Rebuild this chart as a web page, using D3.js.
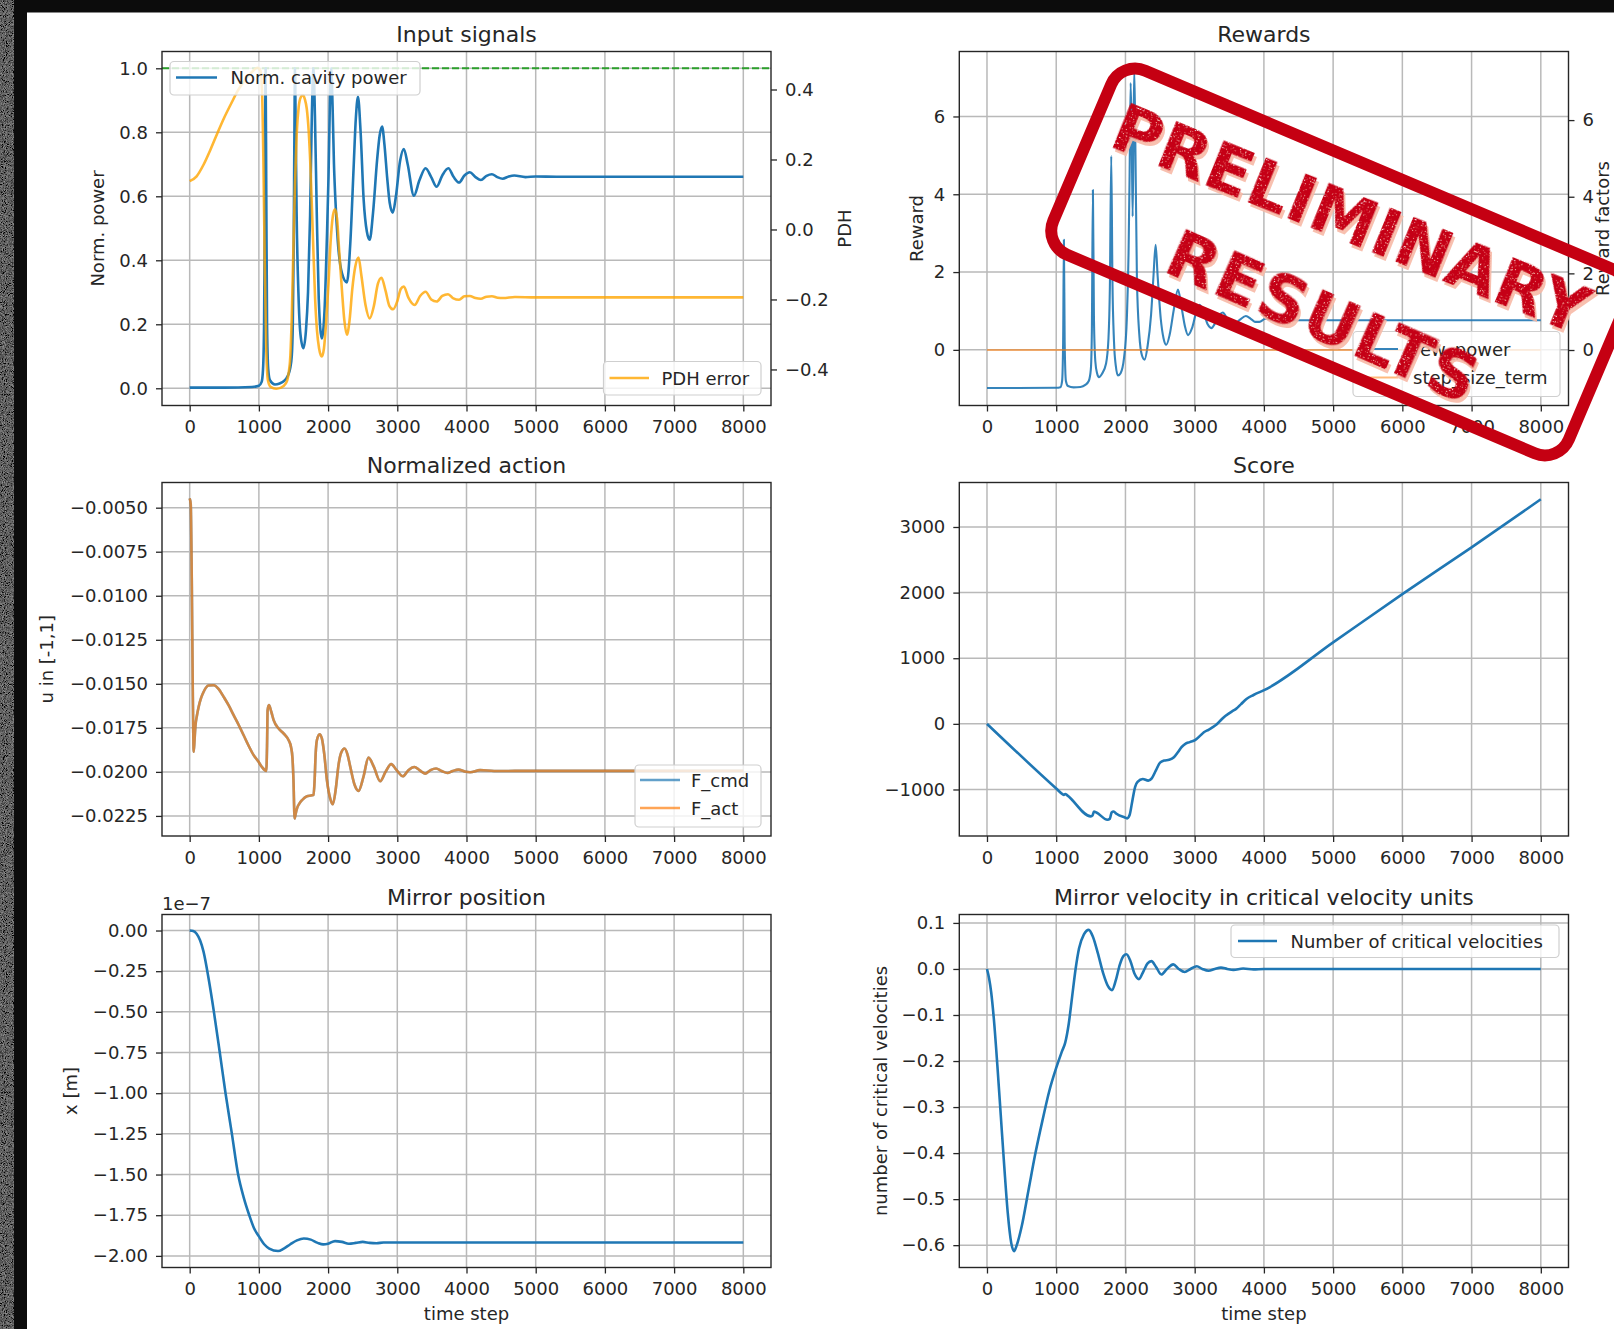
<!DOCTYPE html>
<html>
<head>
<meta charset="utf-8">
<script src="https://cdn.jsdelivr.net/npm/d3@7"></script>
<style>
  html, body { margin: 0; padding: 0; background: #0c0c0c; }
  svg { display: block; }
</style>
</head>
<body>
<svg id="fig" width="1614" height="1329"></svg>
<script>
// ---------------------------------------------------------------------------
// Data (time step, value) read per signal
// ---------------------------------------------------------------------------
const timeTicks = [0, 1000, 2000, 3000, 4000, 5000, 6000, 7000, 8000];
const powerTicks = [0, 0.2, 0.4, 0.6, 0.8, 1.0];
const pdhTicks = [-0.4, -0.2, 0, 0.2, 0.4];
const rewardTicks = [0, 2, 4, 6];
const actionTicks = [-0.0225, -0.02, -0.0175, -0.015, -0.0125, -0.01, -0.0075, -0.005];
const scoreTicks = [-1000, 0, 1000, 2000, 3000];
const positionTicks = [-2, -1.75, -1.5, -1.25, -1, -0.75, -0.5, -0.25, 0];   // units of 1e-7 m
const velocityTicks = [-0.6, -0.5, -0.4, -0.3, -0.2, -0.1, 0, 0.1];

const powerSetpoint = 1.0;

const cavityPower = [
  [0,0.002],[500,0.002],[900,0.004],[1000,0.008],[1040,0.02],[1060,0.06],[1075,0.2],[1087,0.6],
  [1097,1.0],[1107,0.6],[1118,0.2],[1135,0.06],[1160,0.025],[1232,0.012],[1300,0.015],[1353,0.021],
  [1420,0.04],[1450,0.06],[1475,0.1],[1490,0.2],[1503,0.45],[1515,0.85],[1522,1.0],[1530,0.85],
  [1545,0.55],[1571,0.3],[1600,0.17],[1643,0.125],[1680,0.18],[1710,0.3],[1740,0.54],[1765,0.85],
  [1789,1.0],[1810,0.85],[1837,0.54],[1865,0.28],[1909,0.156],[1950,0.25],[1980,0.45],[2006,0.66],
  [2025,0.88],[2045,1.0],[2065,0.88],[2085,0.7],[2103,0.6],[2140,0.46],[2200,0.36],[2272,0.331],
  [2320,0.45],[2369,0.69],[2400,0.84],[2432,0.911],[2470,0.8],[2514,0.589],[2560,0.49],[2601,0.464],
  [2650,0.55],[2708,0.713],[2745,0.79],[2780,0.818],[2815,0.76],[2853,0.66],[2890,0.58],[2935,0.549],
  [2980,0.6],[3040,0.71],[3095,0.748],[3150,0.7],[3240,0.602],[3320,0.65],[3409,0.6875],[3490,0.66],
  [3569,0.63],[3650,0.665],[3738,0.6875],[3815,0.66],[3893,0.643],[3970,0.665],[4048,0.675],[4130,0.66],
  [4208,0.651],[4290,0.664],[4367,0.669],[4445,0.66],[4522,0.655],[4610,0.662],[4691,0.665],[4850,0.66],
  [5000,0.662],[5300,0.661],[8000,0.661]
];

const pdhError = [
  [0,0.138],[100,0.152],[200,0.185],[300,0.228],[400,0.275],[500,0.32],[600,0.36],[700,0.398],
  [800,0.428],[900,0.45],[980,0.462],[1020,0.455],[1045,0.4],[1065,0.2],[1085,-0.1],[1105,-0.33],
  [1130,-0.43],[1170,-0.45],[1250,-0.455],[1320,-0.452],[1390,-0.44],[1430,-0.41],[1455,-0.36],
  [1475,-0.25],[1498,-0.06],[1522,0.132],[1547,0.275],[1575,0.35],[1605,0.378],[1634,0.384],
  [1665,0.372],[1692,0.345],[1720,0.28],[1745,0.18],[1779,-0.011],[1813,-0.2],[1840,-0.29],
  [1870,-0.34],[1909,-0.363],[1940,-0.34],[1970,-0.27],[2006,-0.154],[2035,-0.04],[2070,0.04],
  [2100,0.058],[2130,0.03],[2160,-0.06],[2200,-0.173],[2235,-0.26],[2272,-0.301],[2310,-0.26],
  [2350,-0.17],[2393,-0.106],[2440,-0.08],[2480,-0.13],[2540,-0.215],[2601,-0.254],[2660,-0.22],
  [2720,-0.155],[2771,-0.138],[2830,-0.175],[2885,-0.218],[2940,-0.228],[3000,-0.205],[3050,-0.17],
  [3095,-0.163],[3160,-0.195],[3250,-0.216],[3330,-0.19],[3409,-0.178],[3490,-0.2],[3569,-0.206],
  [3650,-0.19],[3733,-0.185],[3810,-0.197],[3893,-0.201],[3970,-0.191],[4048,-0.19],[4130,-0.196],
  [4208,-0.198],[4290,-0.192],[4367,-0.191],[4450,-0.195],[4530,-0.196],[4700,-0.193],[5000,-0.194],
  [8000,-0.194]
];

const rewPower = [
  [0,-0.98],[1000,-0.975],[1060,-0.96],[1085,-0.8],[1100,0.2],[1111,2.83],[1122,0.2],[1140,-0.8],
  [1170,-0.93],[1250,-0.965],[1350,-0.955],[1420,-0.9],[1470,-0.8],[1500,-0.5],[1515,0.5],[1530,4.11],
  [1545,0.8],[1565,-0.3],[1590,-0.6],[1617,-0.7],[1660,-0.62],[1720,-0.35],[1755,0.3],[1775,1.6],
  [1795,4.98],[1812,1.8],[1835,0.2],[1860,-0.4],[1892,-0.66],[1930,-0.6],[1980,-0.2],[2020,0.8],
  [2045,2.5],[2060,4.5],[2075,6.86],[2090,5.6],[2104,3.43],[2116,5.5],[2128,7.2],[2145,5.0],
  [2166,1.8],[2200,0.4],[2240,-0.15],[2277,-0.25],[2320,0.1],[2370,0.9],[2405,1.9],[2436,2.7],
  [2465,1.9],[2510,0.8],[2550,0.3],[2590,0.13],[2640,0.4],[2700,1.05],[2759,1.55],[2810,1.1],
  [2860,0.6],[2904,0.38],[2960,0.55],[3020,0.95],[3072,1.16],[3130,0.95],[3190,0.65],[3240,0.56],
  [3300,0.7],[3360,0.9],[3406,0.96],[3470,0.8],[3530,0.68],[3570,0.66],[3650,0.77],[3740,0.87],
  [3810,0.8],[3870,0.72],[3935,0.72],[4020,0.8],[4100,0.78],[4200,0.74],[4300,0.77],[4500,0.76],
  [8000,0.76]
];

const stepSizeTerm = [[0,0],[8000,0]];

const fCmd = [
  [0,-0.00447],[15,-0.0048],[30,-0.009],[45,-0.0155],[58,-0.01886],[70,-0.0182],[82,-0.01744],
  [105,-0.0168],[130,-0.0163],[165,-0.0158],[202,-0.01545],[270,-0.0151],[346,-0.01508],[420,-0.0153],
  [491,-0.01574],[560,-0.0162],[635,-0.01678],[710,-0.01735],[780,-0.01792],[850,-0.0185],[924,-0.01905],
  [990,-0.0194],[1044,-0.01972],[1085,-0.0199],[1107,-0.01994],[1118,-0.0185],[1126,-0.0165],
  [1145,-0.01621],[1180,-0.0166],[1213,-0.01706],[1285,-0.01754],[1340,-0.01775],[1381,-0.01792],
  [1430,-0.0182],[1465,-0.0186],[1485,-0.0192],[1500,-0.0205],[1516,-0.02265],[1530,-0.0224],
  [1550,-0.02208],[1585,-0.0218],[1622,-0.02161],[1694,-0.02138],[1766,-0.02133],[1790,-0.0213],
  [1805,-0.0205],[1820,-0.019],[1838,-0.0182],[1877,-0.01786],[1910,-0.0181],[1945,-0.019],
  [1983,-0.02047],[2030,-0.0215],[2069,-0.02184],[2110,-0.021],[2151,-0.0196],[2190,-0.0189],
  [2238,-0.01867],[2280,-0.019],[2320,-0.0197],[2380,-0.0207],[2440,-0.02108],[2510,-0.0203],
  [2584,-0.01919],[2660,-0.0197],[2753,-0.02053],[2830,-0.02],[2911,-0.01956],[2990,-0.0199],
  [3080,-0.02025],[3160,-0.0199],[3248,-0.01972],[3320,-0.0199],[3402,-0.0201],[3480,-0.0199],
  [3561,-0.01981],[3640,-0.01995],[3725,-0.02006],[3800,-0.01995],[3884,-0.01987],[3970,-0.01997],
  [4052,-0.02002],[4196,-0.0199],[4400,-0.01995],[5000,-0.01994],[8000,-0.01994]
];
// the actuator follows the command without visible lag
const fAct = fCmd;

const score = [
  [0,0],[1000,-985],[1090,-1070],[1110,-1082],[1130,-1068],[1160,-1090],[1500,-1410],[1525,-1395],
  [1545,-1335],[1580,-1350],[1740,-1462],[1775,-1445],[1800,-1350],[1830,-1335],[1870,-1370],
  [2000,-1430],[2025,-1440],[2060,-1390],[2100,-1170],[2140,-960],[2175,-885],[2250,-840],[2330,-865],
  [2380,-830],[2440,-710],[2500,-590],[2560,-560],[2630,-548],[2700,-510],[2760,-430],[2810,-355],
  [2870,-300],[2930,-278],[3010,-245],[3080,-180],[3133,-127],[3200,-90],[3261,-51],[3320,-5],
  [3373,51],[3430,110],[3486,152],[3540,190],[3598,228],[3670,300],[3748,380],[3850,440],[4010,517],
  [5000,1242],[6000,1977],[7000,2690],[8000,3422]
];

// mirror position in units of 1e-7 m
const mirrorPosition = [
  [0,0],[50,-0.003],[100,-0.02],[150,-0.06],[200,-0.13],[275,-0.3],[350,-0.5],[435,-0.75],[518,-1.0],
  [610,-1.25],[700,-1.5],[780,-1.64],[861,-1.75],[930,-1.83],[1000,-1.88],[1080,-1.93],[1150,-1.955],
  [1277,-1.97],[1360,-1.955],[1450,-1.93],[1550,-1.905],[1650,-1.893],[1750,-1.9],[1850,-1.92],
  [1930,-1.929],[2000,-1.925],[2100,-1.909],[2200,-1.914],[2300,-1.925],[2400,-1.92],[2500,-1.914],
  [2600,-1.92],[2700,-1.922],[2800,-1.918],[3000,-1.918],[8000,-1.918]
];

const mirrorVelocity = [
  [0,0],[30,-0.02],[60,-0.05],[100,-0.11],[150,-0.21],[200,-0.32],[250,-0.43],[300,-0.53],[350,-0.595],
  [390,-0.613],[430,-0.6],[500,-0.56],[600,-0.48],[700,-0.4],[800,-0.33],[900,-0.265],[1000,-0.215],
  [1080,-0.18],[1130,-0.16],[1180,-0.12],[1230,-0.06],[1280,0.0],[1330,0.045],[1400,0.075],[1470,0.085],
  [1530,0.07],[1600,0.035],[1680,-0.01],[1750,-0.038],[1805,-0.046],[1860,-0.025],[1920,0.01],
  [1970,0.028],[2015,0.032],[2070,0.018],[2130,-0.01],[2195,-0.022],[2260,-0.005],[2320,0.012],
  [2375,0.017],[2440,0.005],[2518,-0.012],[2600,0.0],[2690,0.01],[2770,0.0],[2855,-0.0065],[2940,0.0],
  [3030,0.006],[3110,0.0],[3200,-0.004],[3290,0.0],[3380,0.003],[3470,0.0],[3560,-0.002],[3700,0.001],
  [3850,-0.001],[4000,0.0],[8000,0.0]
];

// ---------------------------------------------------------------------------
// Styling and layout
// ---------------------------------------------------------------------------
const FONT = '"DejaVu Sans", "Liberation Sans", sans-serif';
const INK = "#262626";
const GRID = "#b9b9b9";
const BLUE = "#1f77b4";
const ORANGE = "#ff7f0e";
const RED = "#c50012";
const xDomain = [-400, 8400];

const col = [{x0: 162, x1: 771}, {x0: 959.3, x1: 1568.5}];
const row = [{y0: 51.5, y1: 405.5}, {y0: 482.5, y1: 836}, {y0: 914.5, y1: 1267.5}];

const svg = d3.select("#fig");
const defs = svg.append("defs");

// grain for the dark edge of the sheet
const grain = defs.append("filter").attr("id", "grain");
grain.append("feTurbulence").attr("type", "fractalNoise").attr("baseFrequency", 1.1).attr("numOctaves", 2).attr("seed", 4);
grain.append("feColorMatrix").attr("type", "matrix")
  .attr("values", "0.55 0 0 0 -0.16  0.55 0 0 0 -0.16  0.55 0 0 0 -0.16  0 0 0 0 1");

// speckled ink for the stamp lettering
const grunge = defs.append("filter").attr("id", "grunge")
  .attr("x", "-5%").attr("y", "-20%").attr("width", "110%").attr("height", "140%");
grunge.append("feTurbulence").attr("type", "fractalNoise").attr("baseFrequency", 0.7)
  .attr("numOctaves", 2).attr("seed", 11).attr("result", "n");
grunge.append("feColorMatrix").attr("in", "n").attr("type", "matrix")
  .attr("values", "0 0 0 0 0  0 0 0 0 0  0 0 0 0 0  9 0 0 0 -5.7").attr("result", "holes");
grunge.append("feComposite").attr("in", "SourceGraphic").attr("in2", "holes").attr("operator", "out");

// sheet
svg.append("rect").attr("width", 1614).attr("height", 1329).attr("fill", "#0c0c0c");
svg.append("rect").attr("x", 0).attr("y", 0).attr("width", 12).attr("height", 1329).attr("filter", "url(#grain)");
svg.append("rect").attr("x", 27).attr("y", 12.5).attr("width", 1614 - 27).attr("height", 1329 - 12.5).attr("fill", "#ffffff");

function styleAxis(sel) {
  sel.select(".domain").remove();
  sel.attr("font-family", FONT).attr("font-size", 18);
  sel.selectAll(".tick line").attr("stroke", INK).attr("stroke-width", 1.3);
  sel.selectAll(".tick text").attr("fill", INK);
}

function addPanel(c) {
  const x = d3.scaleLinear().domain(xDomain).range([c.x0, c.x1]);
  const y = d3.scaleLinear().domain(c.yDomain).range([c.y1, c.y0]);
  const g = svg.append("g").attr("font-family", FONT).attr("fill", INK);

  const grid = g.append("g").attr("stroke", GRID).attr("stroke-width", 1.5);
  grid.selectAll("line.gx").data(timeTicks).join("line").attr("class", "gx")
    .attr("x1", d => x(d)).attr("x2", d => x(d)).attr("y1", c.y0).attr("y2", c.y1);
  grid.selectAll("line.gy").data(c.yTicks).join("line").attr("class", "gy")
    .attr("y1", d => y(d)).attr("y2", d => y(d)).attr("x1", c.x0).attr("x2", c.x1);

  defs.append("clipPath").attr("id", "clip-" + c.key).append("rect")
    .attr("x", c.x0).attr("y", c.y0).attr("width", c.x1 - c.x0).attr("height", c.y1 - c.y0);
  const plot = g.append("g").attr("clip-path", `url(#clip-${c.key})`);

  g.append("rect").attr("x", c.x0).attr("y", c.y0).attr("width", c.x1 - c.x0).attr("height", c.y1 - c.y0)
    .attr("fill", "none").attr("stroke", INK).attr("stroke-width", 1.4);

  g.append("g").attr("transform", `translate(0,${c.y1})`)
    .call(d3.axisBottom(x).tickValues(timeTicks).tickFormat(d3.format("d"))
      .tickSizeInner(6).tickSizeOuter(0).tickPadding(9))
    .call(styleAxis);
  g.append("g").attr("transform", `translate(${c.x0},0)`)
    .call(d3.axisLeft(y).tickValues(c.yTicks).tickFormat(c.yFormat)
      .tickSizeInner(6).tickSizeOuter(0).tickPadding(8))
    .call(styleAxis);

  g.append("text").attr("x", (c.x0 + c.x1) / 2).attr("y", c.y0 - 9.5)
    .attr("text-anchor", "middle").attr("font-size", 22).text(c.title);
  if (c.yLabel) {
    g.append("text").attr("transform", `translate(${c.yLabelX},${(c.y0 + c.y1) / 2}) rotate(-90)`)
      .attr("text-anchor", "middle").attr("font-size", 18).text(c.yLabel);
  }
  if (c.xLabel) {
    g.append("text").attr("x", (c.x0 + c.x1) / 2).attr("y", c.y1 + 52.5)
      .attr("text-anchor", "middle").attr("font-size", 18).text(c.xLabel);
  }
  return {g, x, y, plot, c};
}

function drawLine(p, data, yScale, style) {
  const gen = d3.line().x(d => p.x(d[0])).y(d => yScale(d[1])).curve(d3.curveMonotoneX);
  const path = p.plot.append("path").datum(data).attr("d", gen).attr("fill", "none")
    .attr("stroke", style.color).attr("stroke-width", style.width || 2.6)
    .attr("stroke-linejoin", "round").attr("stroke-linecap", "butt");
  if (style.opacity) path.attr("stroke-opacity", style.opacity);
  if (style.dash) path.attr("stroke-dasharray", style.dash);
  return path;
}

function rightAxis(p, yScale, ticks, fmt, label, labelX) {
  p.g.append("g").attr("transform", `translate(${p.c.x1},0)`)
    .call(d3.axisRight(yScale).tickValues(ticks).tickFormat(fmt)
      .tickSizeInner(6).tickSizeOuter(0).tickPadding(8))
    .call(styleAxis);
  p.g.append("text").attr("transform", `translate(${labelX},${(p.c.y0 + p.c.y1) / 2}) rotate(-90)`)
    .attr("text-anchor", "middle").attr("font-size", 18).text(label);
}

function legend(p, box, entries) {
  const L = p.g.append("g");
  L.append("rect").attr("x", box.x).attr("y", box.y).attr("width", box.w).attr("height", box.h)
    .attr("rx", 4).attr("fill", "#ffffff").attr("fill-opacity", 0.8)
    .attr("stroke", "#cfcfcf").attr("stroke-width", 1.2);
  entries.forEach(e => {
    L.append("line").attr("x1", box.sx0).attr("x2", box.sx1).attr("y1", e.y).attr("y2", e.y)
      .attr("stroke", e.color).attr("stroke-width", e.width || 2.6)
      .attr("stroke-opacity", e.opacity || 1);
    L.append("text").attr("x", box.tx).attr("y", e.y + 6.5).attr("font-size", 18).text(e.label);
  });
}

// ---------------------------------------------------------------------------
// Input signals
// ---------------------------------------------------------------------------
const p1 = addPanel({key: "input", ...col[0], ...row[0], yDomain: [-0.0538, 1.0525],
  yTicks: powerTicks, yFormat: d3.format(".1f"), title: "Input signals",
  yLabel: "Norm. power", yLabelX: 104});
const pdhScale = d3.scaleLinear().domain([-0.503, 0.5086]).range([row[0].y1, row[0].y0]);
p1.plot.append("line").attr("x1", col[0].x0).attr("x2", col[0].x1)
  .attr("y1", p1.y(powerSetpoint)).attr("y2", p1.y(powerSetpoint))
  .attr("stroke", "#2ca02c").attr("stroke-width", 2).attr("stroke-dasharray", "7,3");
drawLine(p1, cavityPower, p1.y, {color: BLUE});
drawLine(p1, pdhError, pdhScale, {color: "#ffa500", opacity: 0.8});
rightAxis(p1, pdhScale, pdhTicks, d3.format(".1f"), "PDH", 851);
legend(p1, {x: 170, y: 61.5, w: 250, h: 33.5, sx0: 176, sx1: 217, tx: 230.5},
  [{label: "Norm. cavity power", y: 77.5, color: BLUE}]);
legend(p1, {x: 603.5, y: 361.5, w: 157.5, h: 33.5, sx0: 609.5, sx1: 649, tx: 661.5},
  [{label: "PDH error", y: 378, color: "#ffa500", opacity: 0.8}]);

// ---------------------------------------------------------------------------
// Rewards
// ---------------------------------------------------------------------------
const p2 = addPanel({key: "rewards", ...col[1], ...row[0], yDomain: [-1.43, 7.67],
  yTicks: rewardTicks, yFormat: d3.format("d"), title: "Rewards",
  yLabel: "Reward", yLabelX: 923});
const factorScale = d3.scaleLinear().domain([-1.448, 7.79]).range([row[0].y1, row[0].y0]);
drawLine(p2, rewPower, p2.y, {color: BLUE, width: 2.1, opacity: 0.9});
drawLine(p2, stepSizeTerm, factorScale, {color: ORANGE, width: 2.1, opacity: 0.55});
rightAxis(p2, factorScale, rewardTicks, d3.format("d"), "Reward factors", 1609);
legend(p2, {x: 1353, y: 331.5, w: 207, h: 65, sx0: 1361, sx1: 1398, tx: 1413},
  [{label: "rew_power", y: 349, color: BLUE, width: 2.1, opacity: 0.9},
   {label: "step_size_term", y: 377.5, color: ORANGE, width: 2.1, opacity: 0.55}]);

// ---------------------------------------------------------------------------
// Normalized action
// ---------------------------------------------------------------------------
const p3 = addPanel({key: "action", ...col[0], ...row[1], yDomain: [-0.02364, -0.00357],
  yTicks: actionTicks, yFormat: d3.format(".4f"), title: "Normalized action",
  yLabel: "u in [-1,1]", yLabelX: 53});
drawLine(p3, fCmd, p3.y, {color: BLUE, opacity: 0.7});
drawLine(p3, fAct, p3.y, {color: ORANGE, opacity: 0.7});
legend(p3, {x: 635, y: 765, w: 126, h: 62, sx0: 640, sx1: 680, tx: 691},
  [{label: "F_cmd", y: 780, color: BLUE, opacity: 0.7},
   {label: "F_act", y: 808, color: ORANGE, opacity: 0.7}]);

// ---------------------------------------------------------------------------
// Score
// ---------------------------------------------------------------------------
const p4 = addPanel({key: "score", ...col[1], ...row[1], yDomain: [-1709, 3678],
  yTicks: scoreTicks, yFormat: d3.format("d"), title: "Score"});
drawLine(p4, score, p4.y, {color: BLUE});

// ---------------------------------------------------------------------------
// Mirror position
// ---------------------------------------------------------------------------
const p5 = addPanel({key: "position", ...col[0], ...row[2], yDomain: [-2.0714, 0.0985],
  yTicks: positionTicks, yFormat: d3.format(".2f"), title: "Mirror position",
  yLabel: "x [m]", yLabelX: 77, xLabel: "time step"});
p5.g.append("text").attr("x", col[0].x0).attr("y", 910).attr("font-size", 18).text("1e\u22127");
drawLine(p5, mirrorPosition, p5.y, {color: BLUE});

// ---------------------------------------------------------------------------
// Mirror velocity
// ---------------------------------------------------------------------------
const p6 = addPanel({key: "velocity", ...col[1], ...row[2], yDomain: [-0.6485, 0.1183],
  yTicks: velocityTicks, yFormat: d3.format(".1f"), title: "Mirror velocity in critical velocity units",
  yLabel: "number of critical velocities", yLabelX: 887, xLabel: "time step"});
drawLine(p6, mirrorVelocity, p6.y, {color: BLUE});
legend(p6, {x: 1231, y: 925, w: 328, h: 32.5, sx0: 1238, sx1: 1277, tx: 1290.5},
  [{label: "Number of critical velocities", y: 941, color: BLUE}]);

// ---------------------------------------------------------------------------
// "Preliminary results" stamp
// ---------------------------------------------------------------------------
const stamp = svg.append("g").attr("transform", "translate(1340,262) rotate(23)");
stamp.append("rect").attr("x", -280).attr("y", -100).attr("width", 560).attr("height", 200)
  .attr("rx", 26).attr("fill", "none").attr("stroke", RED).attr("stroke-width", 12);
const words = [
  {text: "PRELIMINARY", x: -6, y: -21, rot: -1, spacing: 0.5},
  {text: "RESULTS", x: 6, y: 80, rot: 0.8, spacing: 2}
];
const wordAttrs = sel => sel
  .attr("text-anchor", "middle").attr("font-family", FONT).attr("font-weight", "bold")
  .attr("font-size", 66).attr("letter-spacing", d => d.spacing)
  .text(d => d.text);
stamp.append("g").attr("fill", "#f7b9a6").attr("fill-opacity", 0.9)
  .selectAll("text").data(words).join("text")
  .attr("transform", d => `translate(${d.x + 3.5},${d.y + 3}) rotate(${d.rot})`)
  .call(wordAttrs);
stamp.append("g").attr("fill", RED).attr("filter", "url(#grunge)")
  .selectAll("text").data(words).join("text")
  .attr("transform", d => `translate(${d.x},${d.y}) rotate(${d.rot})`)
  .call(wordAttrs);
</script>
</body>
</html>
